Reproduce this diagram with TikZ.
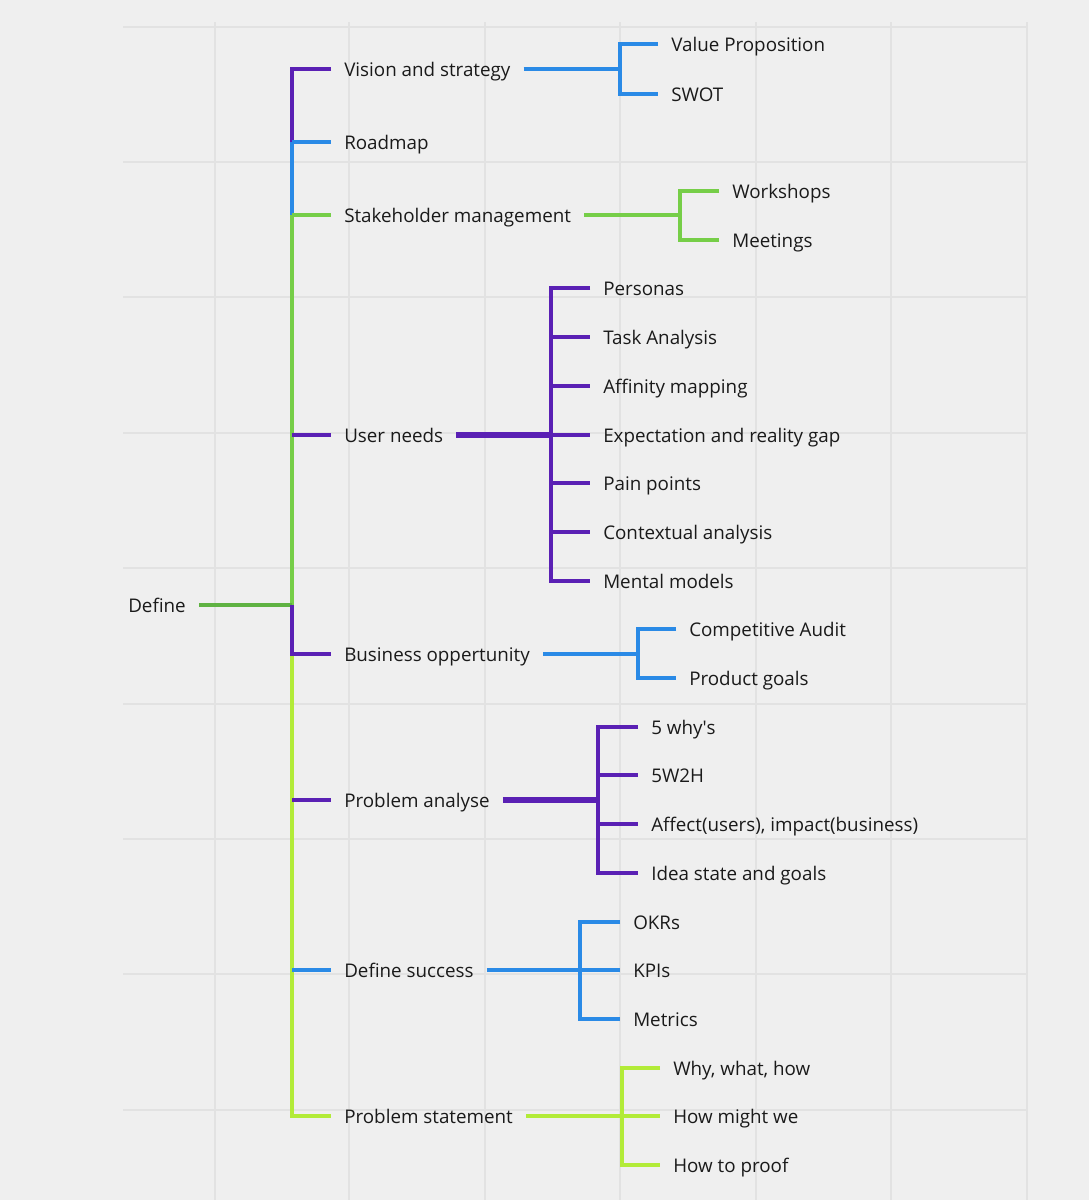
\documentclass[tikz,border=0pt]{standalone}
\usepackage{fontspec}
\setmainfont{Open Sans}
\definecolor{bg}{HTML}{EFEFEF}
\definecolor{gridc}{HTML}{E2E2E2}
\definecolor{cpur}{HTML}{5A20B4}
\definecolor{cblu}{HTML}{2A8AE6}
\definecolor{cgrn}{HTML}{76CE48}
\definecolor{cdgr}{HTML}{5FB242}
\definecolor{clim}{HTML}{B2EB38}
\definecolor{ctxt}{HTML}{1A1A1A}
\begin{document}
\begin{tikzpicture}[x=0.75pt,y=-0.75pt,
  lbl/.style={anchor=west,inner xsep=9.75pt,inner ysep=0pt,text height=12pt,text depth=1.5pt,
    font=\fontsize{14.1}{17}\selectfont,text=ctxt},
  ln/.style={line width=2.3pt},
  thk/.style={line width=4pt},
  mid/.style={line width=3pt},
  gridline/.style={draw=gridc,line width=1.1pt}]
\useasboundingbox (0,0) rectangle (1089,1200);
\fill[bg] (0,0) rectangle (1089,1200);
% grid
\foreach \gx in {215,349,485,620,756,891,1027} \draw[gridline] (\gx,22) -- (\gx,1200);
\foreach \gy in {27,162,297,433,568,704,839,974,1110} \draw[gridline] (123,\gy) -- (1027,\gy);

% root
\node[lbl] (def) at (115,605) {Define};
% children
\node[lbl] (vis) at (331,69) {Vision and strategy};
\node[lbl] (road) at (331,142) {Roadmap};
\node[lbl] (stake) at (331,215) {Stakeholder management};
\node[lbl] (user) at (331,435) {User needs};
\node[lbl] (bus) at (331,654) {Business oppertunity};
\node[lbl] (pa) at (331,800) {Problem analyse};
\node[lbl] (ds) at (331,970) {Define success};
\node[lbl] (ps) at (331,1116) {Problem statement};
% grandchildren
\node[lbl] (vp) at (658,44) {Value Proposition};
\node[lbl] (swot) at (658,94) {SWOT};
\node[lbl] (ws) at (719,191) {Workshops};
\node[lbl] (meet) at (719,240) {Meetings};
\node[lbl] (per) at (590,288) {Personas};
\node[lbl] (ta) at (590,337) {Task Analysis};
\node[lbl] (aff) at (590,386) {Affinity mapping};
\node[lbl] (exp) at (590,435) {Expectation and reality gap};
\node[lbl] (pain) at (590,483) {Pain points};
\node[lbl] (ctx) at (590,532) {Contextual analysis};
\node[lbl] (mm) at (590,581) {Mental models};
\node[lbl] (ca) at (676,629) {Competitive Audit};
\node[lbl] (pg) at (676,678) {Product goals};
\node[lbl] (w5) at (638,727) {5 why\textquotesingle s};
\node[lbl] (w2h) at (638,775) {5W2H};
\node[lbl] (aff2) at (638,824) {Affect(users), impact(business)};
\node[lbl] (idea) at (638,873) {Idea state and goals};
\node[lbl] (okr) at (620,922) {OKRs};
\node[lbl] (kpi) at (620,970) {KPIs};
\node[lbl] (met) at (620,1019) {Metrics};
\node[lbl] (why) at (660,1068) {Why, what, how};
\node[lbl] (hmw) at (660,1116) {How might we};
\node[lbl] (htp) at (660,1165) {How to proof};

% trunk coordinates
\coordinate (t-road) at (292,142);
\coordinate (t-stake) at (292,215);
\coordinate (t-user) at (292,435);
\coordinate (t-def) at (292,605);
\coordinate (t-bus) at (292,654);
\coordinate (t-pa) at (292,800);
\coordinate (t-ds) at (292,970);
\coordinate (t-ps) at (292,1116);
% junctions
\coordinate (j-vis) at (620,69);
\coordinate (j-stake) at (680,215);
\coordinate (j-user) at (551,435);
\coordinate (j-bus) at (638,654);
\coordinate (j-pa) at (598,800);
\coordinate (j-ds) at (580,970);
\coordinate (j-ps) at (622,1116);

% trunk
\draw[ln,cgrn] (t-stake) -- (t-def);
\draw[ln,clim] (t-bus) -- (t-ps) -- (ps.west);
\draw[ln,cpur] (vis.west) -| (t-road);
\draw[ln,cblu] (t-road) -- (road.west);
\draw[ln,cblu] (t-road) -- (t-stake);
\draw[ln,cgrn] (t-stake) -- (stake.west);
\draw[ln,cpur] (t-user) -- (user.west);
\draw[ln,cdgr] (def.east) -- (t-def);
\draw[ln,cpur] (t-def) -- (t-bus) -- (bus.west);
\draw[ln,cpur] (t-pa) -- (pa.west);
\draw[ln,cblu] (t-ds) -- (ds.west);

% Vision and strategy
\draw[ln,cblu] (vis.east) -- (j-vis);
\draw[ln,cblu] (vp.west) -| (j-vis) |- (swot.west);
% Stakeholder management
\draw[ln,cgrn] (stake.east) -- (j-stake);
\draw[ln,cgrn] (ws.west) -| (j-stake) |- (meet.west);
% User needs
\draw[thk,cpur] (user.east) -- (j-user);
\draw[ln,cpur] (per.west) -| (j-user) |- (mm.west);
\foreach \n in {ta,aff,exp,pain,ctx} \draw[ln,cpur] (j-user |- \n.west) -- (\n.west);
% Business oppertunity
\draw[ln,cblu] (bus.east) -- (j-bus);
\draw[ln,cblu] (ca.west) -| (j-bus) |- (pg.west);
% Problem analyse
\draw[thk,cpur] (pa.east) -- (j-pa);
\draw[ln,cpur] (w5.west) -| (j-pa) |- (idea.west);
\foreach \n in {w2h,aff2} \draw[ln,cpur] (j-pa |- \n.west) -- (\n.west);
% Define success
\draw[mid,cblu] (ds.east) -- (j-ds);
\draw[ln,cblu] (okr.west) -| (j-ds) |- (met.west);
\draw[ln,cblu] (j-ds) -- (kpi.west);
% Problem statement
\draw[ln,clim] (ps.east) -- (j-ps);
\draw[ln,clim] (why.west) -| (j-ps) |- (htp.west);
\draw[ln,clim] (j-ps) -- (hmw.west);
\end{tikzpicture}
\end{document}
